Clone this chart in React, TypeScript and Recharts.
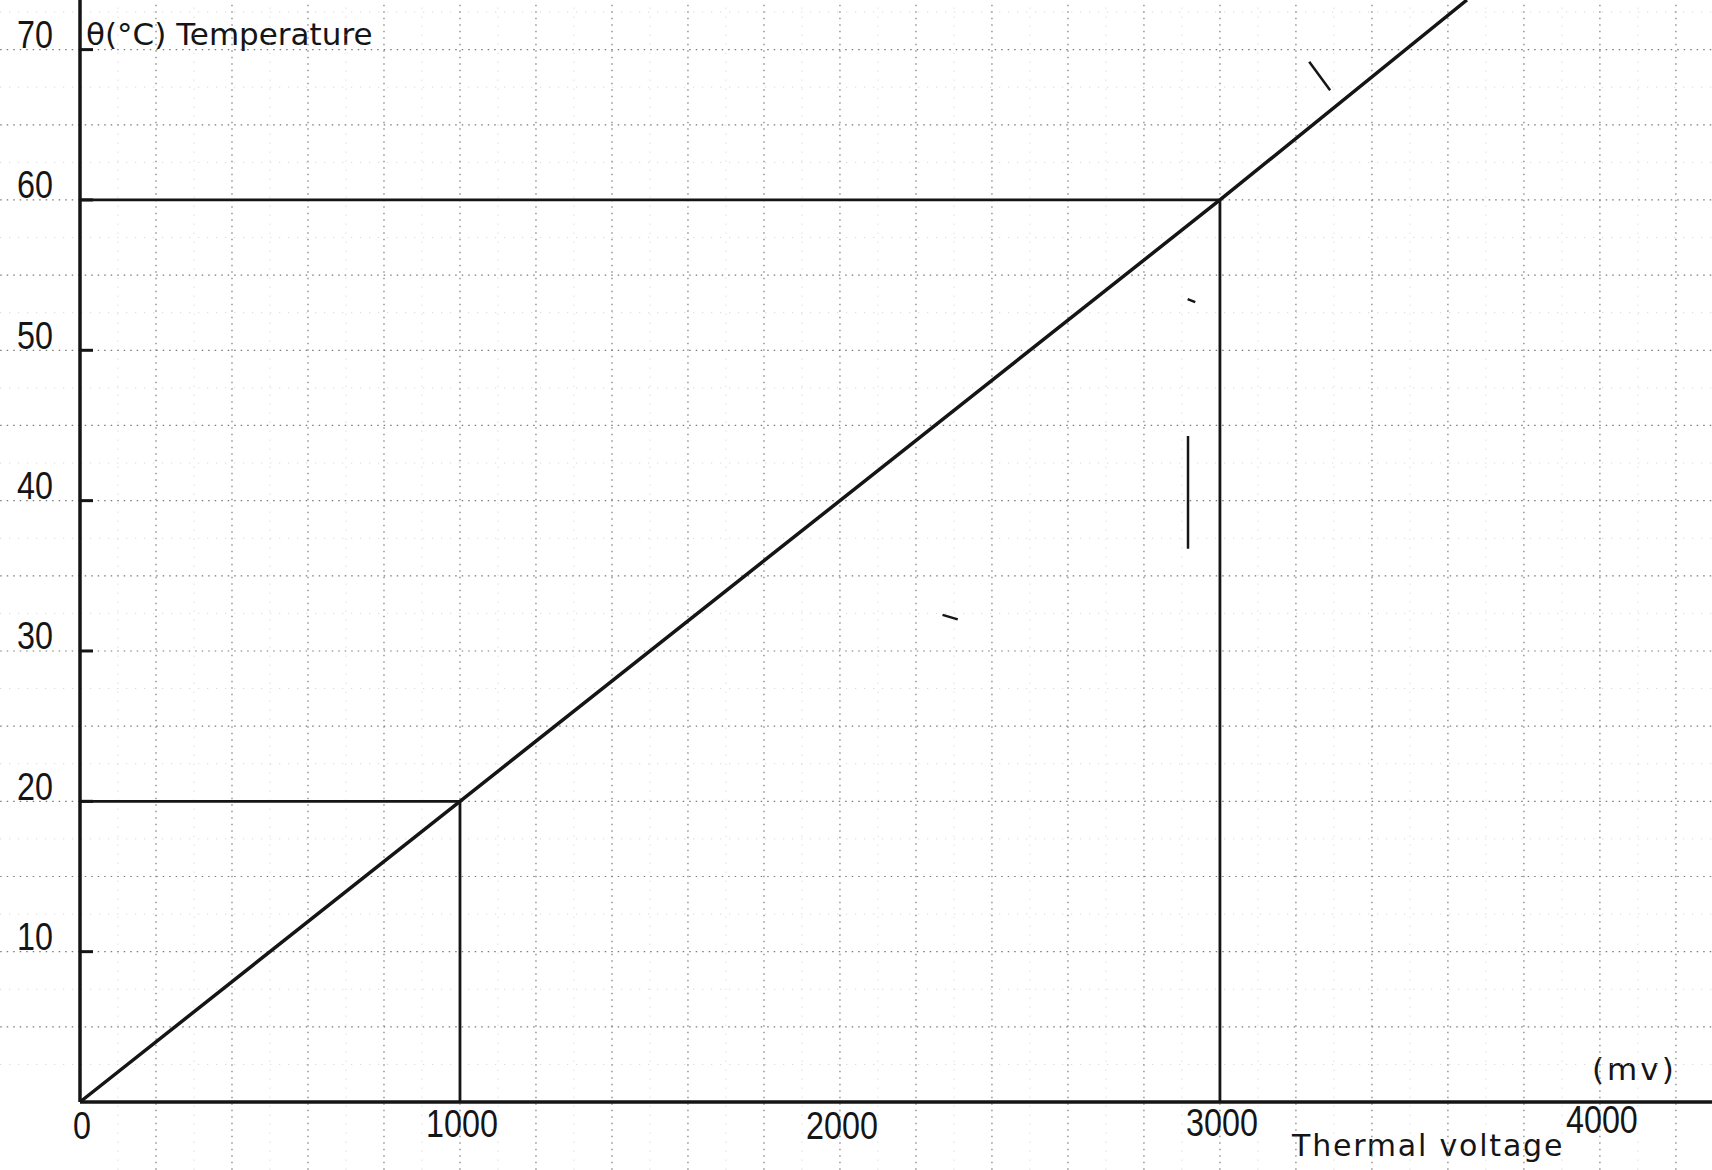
import React from 'react';
import {
  ComposedChart,
  Line,
  XAxis,
  YAxis,
  ReferenceLine,
  Customized,
} from 'recharts';

// readings
const voltage = [0, 1000, 3000, 3650];
const temperature = [0, 20, 60, 73.3];

// construction lines used to read the graph
const readVoltage = [1000, 3000];
const readTemperature = [20, 60];

const xTicks = [0, 1000, 2000, 3000, 4000];
const yTicks = [10, 20, 30, 40, 50, 60, 70];

// graph paper
const gridMajorV = [200, 400, 600, 800, 1000, 1200, 1400, 1600, 1800, 2000, 2200, 2400, 2600, 2800, 3000, 3200, 3400, 3600, 3800, 4000, 4200];
const gridMinorV = [100, 300, 500, 700, 900, 1100, 1300, 1500, 1700, 1900, 2100, 2300, 2500, 2700, 2900, 3100, 3300, 3500, 3700, 3900, 4100];
const gridMajorT = [5, 10, 15, 20, 25, 30, 35, 40, 45, 50, 55, 60, 65, 70];
const gridMinorT = [2.5, 7.5, 12.5, 17.5, 22.5, 27.5, 32.5, 37.5, 42.5, 47.5, 52.5, 57.5, 62.5, 67.5, 72.5];

// stray pen strokes on the sheet
const penMarks = [
  [{ x: 3235, y: 69.2 }, { x: 3290, y: 67.3 }],
  [{ x: 2916, y: 44.3 }, { x: 2916, y: 36.8 }],
  [{ x: 2270, y: 32.4 }, { x: 2310, y: 32.1 }],
  [{ x: 2915, y: 53.4 }, { x: 2935, y: 53.2 }],
];

const X_MAX = 4295;
const Y_MAX = 73.3;

const rows = voltage.map((v, i) => ({ v, t: temperature[i] }));

const INK = '#151515';
const DIGITS = '"Liberation Sans", Arimo, sans-serif';
const WORDS = '"DejaVu Sans", "Liberation Sans", sans-serif';

// the drawn x axis rises a little towards the right, labels follow it
const xLabelLift: Record<number, number> = { 0: 0, 1000: 2, 2000: 0, 3000: 3, 4000: 6 };

const YTick = (props: any) => {
  const { x, y, payload } = props;
  return (
    <g>
      <line x1={x} y1={y} x2={x + 13} y2={y} stroke={INK} strokeWidth={3} />
      <text
        transform={`translate(${x - 27},${y - 15}) scale(0.85,1)`}
        textAnchor="end"
        dominantBaseline="central"
        fontSize={38}
        fontFamily={DIGITS}
        fill={INK}
      >
        {payload.value}
      </text>
    </g>
  );
};

const XTick = (props: any) => {
  const { x, y, payload } = props;
  const lift = xLabelLift[payload.value] || 0;
  return (
    <text
      transform={`translate(${x + 2},${y + 24 - lift}) scale(0.85,1)`}
      textAnchor="middle"
      dominantBaseline="central"
      fontSize={38}
      fontFamily={DIGITS}
      fill={INK}
    >
      {payload.value}
    </text>
  );
};

const Labels = () => (
  <g fill={INK} fontFamily={WORDS}>
    <text x={86} y={45} fontSize={31}>θ(°C) Temperature</text>
    <text x={1292} y={1156} fontSize={30} letterSpacing={1.8}>Thermal voltage</text>
    <text x={1592} y={1080} fontSize={31} letterSpacing={3}>(mv)</text>
  </g>
);

export default function App() {
  return (
    <div style={{ position: 'absolute', left: 0, top: 0, width: 1712, height: 1170, background: '#fff' }}>
      <ComposedChart width={1712} height={1170} data={rows} margin={{ top: 0, right: 0, left: 0, bottom: 0 }}>
        {gridMinorV.map((v) => (
          <ReferenceLine key={`mv${v}`} ifOverflow="visible" segment={[{ x: v, y: -4.5 }, { x: v, y: Y_MAX }]} stroke="#cfcfcf" strokeWidth={1} strokeDasharray="1 8" />
        ))}
        {gridMinorT.map((t) => (
          <ReferenceLine key={`mt${t}`} ifOverflow="visible" segment={[{ x: -210, y: t }, { x: X_MAX, y: t }]} stroke="#cfcfcf" strokeWidth={1} strokeDasharray="1 8" />
        ))}
        {gridMajorV.map((v) => (
          <ReferenceLine key={`gv${v}`} ifOverflow="visible" segment={[{ x: v, y: -4.5 }, { x: v, y: Y_MAX }]} stroke="#7a7a7a" strokeWidth={1.2} strokeDasharray="1.5 5" />
        ))}
        {gridMajorT.map((t) => (
          <ReferenceLine key={`gt${t}`} ifOverflow="visible" segment={[{ x: -210, y: t }, { x: X_MAX, y: t }]} stroke="#7a7a7a" strokeWidth={1.2} strokeDasharray="1.5 5" />
        ))}
        {penMarks.map((seg, i) => (
          <ReferenceLine key={`pen${i}`} segment={seg} stroke={INK} strokeWidth={2.5} />
        ))}
        {readVoltage.map((v, i) => (
          <ReferenceLine key={`rh${v}`} segment={[{ x: 0, y: readTemperature[i] }, { x: v, y: readTemperature[i] }]} stroke={INK} strokeWidth={2.8} />
        ))}
        {readVoltage.map((v, i) => (
          <ReferenceLine key={`rv${v}`} segment={[{ x: v, y: 0 }, { x: v, y: readTemperature[i] }]} stroke={INK} strokeWidth={2.8} />
        ))}
        <XAxis
          dataKey="v"
          type="number"
          domain={[0, X_MAX]}
          ticks={xTicks}
          height={68}
          axisLine={{ stroke: INK, strokeWidth: 3.5 }}
          tickLine={false}
          tickSize={0}
          tickMargin={0}
          tick={<XTick />}
          interval={0}
        />
        <YAxis
          type="number"
          domain={[0, Y_MAX]}
          ticks={yTicks}
          width={80}
          axisLine={{ stroke: INK, strokeWidth: 3.5 }}
          tickLine={false}
          tickSize={0}
          tickMargin={0}
          tick={<YTick />}
          interval={0}
        />
        <Line
          type="linear"
          dataKey="t"
          stroke={INK}
          strokeWidth={3.5}
          dot={false}
          isAnimationActive={false}
        />
        <Customized component={Labels} />
      </ComposedChart>
    </div>
  );
}
